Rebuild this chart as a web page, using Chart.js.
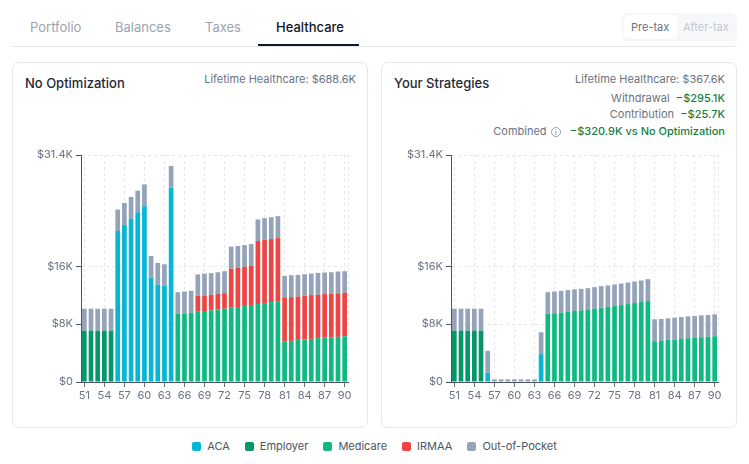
<!DOCTYPE html>
<html><head><meta charset="utf-8">
<script src="https://cdn.jsdelivr.net/npm/chart.js@4.4.1/dist/chart.umd.min.js"></script>
<style>
*{box-sizing:border-box}
body{margin:0;width:749px;height:464px;background:#fff;font-family:Inter,"Noto Sans",sans-serif;position:relative;overflow:hidden}
.abs{position:absolute;white-space:nowrap}
.tab{position:absolute;top:19px;font-size:13px;color:#9ca3af;line-height:16px}
.tab.active{color:#111827;font-weight:500}
.tabline{position:absolute;left:12px;top:46px;width:725px;height:1px;background:#e5e7eb}
.underline{position:absolute;left:258px;top:44px;width:101px;height:2px;background:#111827}
.toggle{position:absolute;left:622px;top:13px;width:115px;height:28px;background:#f6f7f9;border-radius:6px}
.pill{position:absolute;left:2px;top:2px;width:54px;height:24px;background:#fff;border-radius:5px;box-shadow:0 0 1px rgba(0,0,0,0.05)}
.tg{position:absolute;top:7px;font-size:11px;line-height:14px}
.card{position:absolute;top:62px;width:356px;height:366px;border:1px solid #e5e7eb;border-radius:7px;background:#fff}
.title{position:absolute;left:12px;top:11px;font-size:13px;font-weight:500;color:#1f2937;line-height:18px}
.meta{position:absolute;right:11px;font-size:11px;color:#6b7280;line-height:14px;text-align:right}
.green{color:#15803d;font-weight:500}
.info{display:inline-block;width:10px;height:10px;border:1px solid #9ca3af;border-radius:50%;font-size:7px;line-height:9px;text-align:center;color:#9ca3af;vertical-align:0px;margin-left:4px;font-weight:600}
canvas{position:absolute}
.legend{position:absolute;top:439px;left:0;width:749px;display:flex;justify-content:center;font-size:11px;color:#4b5563;line-height:14px}
.li{display:flex;align-items:center;margin:0 7.5px}
.sw{width:9px;height:9px;border-radius:2px;margin-right:6px}
</style></head>
<body>
<div class="tab" style="left:30px">Portfolio</div>
<div class="tab" style="left:115px">Balances</div>
<div class="tab" style="left:205px">Taxes</div>
<div class="tab active" style="left:276px">Healthcare</div>
<div class="tabline"></div>
<div class="underline"></div>
<div class="toggle"><div class="pill"></div>
<div class="tg" style="left:9px;color:#6b7280">Pre-tax</div>
<div class="tg" style="left:61px;color:#c4c8cf">After-tax</div></div>

<div class="card" style="left:12px">
<div class="title">No Optimization</div>
<div class="meta" style="top:9px">Lifetime Healthcare: $688.6K</div>
</div>
<div class="card" style="left:381px">
<div class="title">Your Strategies</div>
<div class="meta" style="top:9px">Lifetime Healthcare: $367.6K</div>
<div class="meta" style="top:28px">Withdrawal&nbsp;&nbsp;<span class="green">−$295.1K</span></div>
<div class="meta" style="top:44px">Contribution&nbsp;&nbsp;<span class="green">−$25.7K</span></div>
<div class="meta" style="top:61px">Combined<span class="info">i</span>&nbsp;&nbsp;&nbsp;<span class="green">−$320.9K vs No Optimization</span></div>
</div>

<canvas id="c1" width="340" height="260" style="left:20px;top:145px;width:340px;height:260px"></canvas>
<canvas id="c2" width="340" height="260" style="left:390px;top:145px;width:340px;height:260px"></canvas>

<div class="legend" id="legend"></div>

<script>
// ---- data ----
const ages = [51,52,53,54,55,56,57,58,59,60,61,62,63,64,65,66,67,68,69,70,71,72,73,74,75,76,77,78,79,80,81,82,83,84,85,86,87,88,89,90];
const yTickValues = [0, 8000, 16000, 31400];
const seriesNames = ["ACA", "Employer", "Medicare", "IRMAA", "Out-of-Pocket"];

// No Optimization
const noOptACA      = [0,0,0,0,0,20870,21700,22570,23490,24310,14450,13440,13300,26880,0,0,0,0,0,0,0,0,0,0,0,0,0,0,0,0,0,0,0,0,0,0,0,0,0,0];
const noOptEmployer = [7100,7100,7100,7100,7100,0,0,0,0,0,0,0,0,0,0,0,0,0,0,0,0,0,0,0,0,0,0,0,0,0,0,0,0,0,0,0,0,0,0,0];
const noOptMedicare = [0,0,0,0,0,0,0,0,0,0,0,0,0,0,9450,9500,9590,9720,9820,9910,10050,10140,10280,10370,10500,10640,10780,10920,11060,11190,5640,5690,5830,5870,5960,6060,6150,6190,6240,6330];
const noOptIRMAA    = [0,0,0,0,0,0,0,0,0,0,0,0,0,0,0,0,0,2190,2150,2150,2150,2150,5410,5410,5420,5420,8720,8760,8710,8720,6060,6050,6000,6060,6060,6000,6010,6010,6010,6010];
const noOptOOP      = [3040,3040,3040,3040,3040,2980,3070,3030,2980,3030,2980,3030,2980,3020,2980,3020,3020,2970,3030,2990,2980,3030,3030,3030,3020,3020,2980,2980,3030,3030,2980,3030,2990,2980,2980,3030,2980,2980,3030,2980];

// Your Strategies
const stratACA      = [0,0,0,0,0,1280,0,0,0,0,0,0,0,3850,0,0,0,0,0,0,0,0,0,0,0,0,0,0,0,0,0,0,0,0,0,0,0,0,0,0];
const stratEmployer = [7100,7100,7100,7100,7100,0,0,0,0,0,0,0,0,0,0,0,0,0,0,0,0,0,0,0,0,0,0,0,0,0,0,0,0,0,0,0,0,0,0,0];
const stratMedicare = [0,0,0,0,0,0,0,0,0,0,0,0,0,0,9450,9500,9590,9720,9820,9910,10050,10140,10280,10370,10500,10640,10780,10920,11060,11190,5640,5690,5830,5870,5960,6060,6150,6190,6240,6330];
const stratIRMAA    = [0,0,0,0,0,0,0,0,0,0,0,0,0,0,0,0,0,0,0,0,0,0,0,0,0,0,0,0,0,0,0,0,0,0,0,0,0,0,0,0];
const stratOOP      = [3040,3040,3040,3040,3040,3030,370,370,370,370,370,370,370,3030,2980,3020,3020,2990,2980,2980,2930,2980,2980,2980,2990,2980,2980,2980,2980,3030,3030,3030,2980,3030,3030,3020,2980,3030,3030,3030];

const colors = ["#06b6d4", "#059669", "#10b981", "#ef4444", "#94a3b8"];

// ---- legend ----
const lg = document.getElementById('legend');
seriesNames.forEach((n,i)=>{
  const d=document.createElement('div'); d.className='li';
  d.innerHTML='<span class="sw" style="background:'+colors[i]+'"></span>'+n;
  lg.appendChild(d);
});

function fmt(v){ if(v===0) return '$0'; const k=v/1000; return '$'+(Number.isInteger(k)?k:k.toFixed(1))+'K'; }

const edgeLine = {id:'edgeLine', beforeDatasetsDraw(chart){
  const {ctx, chartArea:a} = chart;
  ctx.save(); ctx.strokeStyle='#e5e7eb'; ctx.lineWidth=1; ctx.setLineDash([3,3]);
  ctx.beginPath(); ctx.moveTo(Math.round(a.right)+0.5,a.top); ctx.lineTo(Math.round(a.right)+0.5,a.bottom); ctx.stroke(); ctx.restore();
}};

function makeChart(id, series){
  const datasets = series.map((data,i)=>({label:seriesNames[i], data, backgroundColor:colors[i], borderWidth:0, barPercentage:0.7, categoryPercentage:1.0, stack:'s'}));
  new Chart(document.getElementById(id), {
    type:'bar',
    data:{labels:ages, datasets},
    plugins:[edgeLine],
    options:{
      responsive:false, animation:false,
      layout:{padding:{top:10,right:12,left:0,bottom:0}},
      plugins:{legend:{display:false}, tooltip:{enabled:false}},
      scales:{
        x:{stacked:true,
           grid:{offset:false, color:c=>c.index%3===0?'#e5e7eb':'transparent', tickColor:c=>c.index%3===0?'#6b7280':'transparent', tickLength:5, lineWidth:1},
           border:{display:true, color:'#4b5563', dash:[3,3]},
           ticks:{autoSkip:false, maxRotation:0, padding:2, color:'#6b7280', font:{family:'Inter', size:11},
                  callback:(v,i)=> i%3===0 ? ages[i] : ''},
           afterFit:s=>{s.height=23;}
        },
        y:{stacked:true, min:0, max:31400,
           afterBuildTicks:s=>{ s.ticks = yTickValues.map(v=>({value:v})); },
           grid:{color:c=>c.tick && c.tick.value===0?'transparent':'#e5e7eb', tickColor:'#4b5563', tickLength:5},
           border:{display:true, color:'#4b5563', dash:[3,3]},
           ticks:{color:'#6b7280', font:{family:'Inter', size:11}, padding:3, callback:v=>fmt(v)},
           afterFit:s=>{s.width=61;}
        }
      }
    }
  });
}
makeChart('c1', [noOptACA, noOptEmployer, noOptMedicare, noOptIRMAA, noOptOOP]);
makeChart('c2', [stratACA, stratEmployer, stratMedicare, stratIRMAA, stratOOP]);
</script>
</body></html>
